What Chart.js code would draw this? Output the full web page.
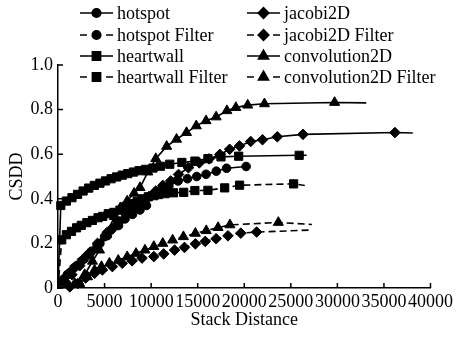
<!DOCTYPE html>
<html>
<head>
<meta charset="utf-8">
<script src="https://cdn.jsdelivr.net/npm/chart.js@4/dist/chart.umd.min.js"></script>
<style>
  html, body { margin: 0; padding: 0; background: #fff; }
  #wrap { position: relative; width: 456px; height: 338px; }
</style>
</head>
<body>
<div id="wrap"><canvas id="c" width="456" height="338"></canvas></div>
<script>
// ---------------- data ----------------
const seriesNames = ['hotspot', 'hotspot Filter', 'heartwall', 'heartwall Filter',
                     'jacobi2D', 'jacobi2D Filter', 'convolution2D', 'convolution2D Filter'];

const hotspotX = [0, 600, 1300, 2000, 2800, 3600, 4500, 5300, 5900, 6600, 7300, 8100, 8800, 9800, 10800, 11900, 12900, 13900, 14900, 15900, 17000, 18100, 20200];
const hotspotY = [0, 0.04, 0.07, 0.10, 0.13, 0.165, 0.20, 0.235, 0.27, 0.30, 0.33, 0.36, 0.39, 0.41, 0.434, 0.456, 0.48, 0.49, 0.50, 0.51, 0.524, 0.537, 0.545];

const hotspotFilterX = [0, 400, 1000, 1700, 2500, 3400, 4200, 5000, 5700, 6500, 7200, 8000, 8800, 9500];
const hotspotFilterY = [0, 0.03, 0.06, 0.09, 0.12, 0.15, 0.19, 0.23, 0.26, 0.28, 0.31, 0.33, 0.35, 0.37];

const heartwallX = [0, 300, 900, 1500, 2100, 2700, 3300, 3900, 4500, 5100, 5700, 6300, 6900, 7500, 8100, 8700, 9400, 10200, 11000, 12000, 13300, 14700, 16100, 17500, 19400, 25900, 26700];
const heartwallY = [0, 0.37, 0.39, 0.405, 0.42, 0.435, 0.448, 0.46, 0.47, 0.48, 0.49, 0.498, 0.506, 0.513, 0.52, 0.526, 0.532, 0.538, 0.546, 0.555, 0.563, 0.569, 0.58, 0.588, 0.591, 0.595, 0.595];

const heartwallFilterX = [0, 400, 900, 1450, 2000, 2500, 3100, 3700, 4300, 4800, 5400, 6000, 6650, 7300, 8000, 8500, 9050, 9700, 10300, 10800, 11500, 12400, 13500, 14700, 16100, 17900, 19500, 25300, 26500];
const heartwallFilterY = [0, 0.216, 0.239, 0.254, 0.27, 0.281, 0.293, 0.303, 0.315, 0.321, 0.333, 0.339, 0.349, 0.366, 0.378, 0.389, 0.40, 0.409, 0.414, 0.419, 0.423, 0.427, 0.429, 0.437, 0.438, 0.449, 0.461, 0.467, 0.46];

const jacobiX = [0, 740, 1490, 2330, 3180, 4240, 5300, 6370, 7320, 8170, 9020, 9760, 10500, 11250, 12100, 12940, 14000, 15170, 16230, 17370, 18430, 19490, 20690, 21960, 23550, 26310, 36180, 38100];
const jacobiY = [0, 0.03, 0.06, 0.10, 0.15, 0.20, 0.25, 0.30, 0.33, 0.365, 0.39, 0.41, 0.435, 0.46, 0.48, 0.509, 0.539, 0.561, 0.579, 0.599, 0.622, 0.637, 0.657, 0.665, 0.678, 0.689, 0.697, 0.695];

const jacobiFilterX = [0, 1270, 2120, 2970, 3930, 4770, 5840, 6900, 7960, 9020, 10290, 11350, 12520, 13580, 14750, 15810, 16980, 18250, 19630, 21330, 27270];
const jacobiFilterY = [0, 0.005, 0.02, 0.045, 0.066, 0.081, 0.096, 0.111, 0.122, 0.134, 0.141, 0.153, 0.17, 0.182, 0.198, 0.209, 0.221, 0.234, 0.246, 0.251, 0.26];

const convX = [0, 1800, 2860, 3700, 4460, 5200, 6050, 6700, 7430, 8170, 8800, 9650, 10500, 11670, 12730, 13800, 14850, 15900, 16980, 18140, 19100, 20370, 22170, 29700, 33100];
const convY = [0, 0.02, 0.06, 0.12, 0.17, 0.24, 0.32, 0.36, 0.39, 0.425, 0.45, 0.52, 0.58, 0.635, 0.667, 0.697, 0.727, 0.75, 0.767, 0.795, 0.809, 0.82, 0.826, 0.832, 0.83];

const convFilterX = [0, 2330, 3180, 3930, 4670, 5520, 6470, 7430, 8380, 9340, 10290, 11250, 12310, 13470, 14750, 15920, 17190, 18460, 23660, 27270];
const convFilterY = [0, 0.02, 0.05, 0.08, 0.096, 0.111, 0.124, 0.14, 0.155, 0.17, 0.186, 0.2, 0.215, 0.23, 0.245, 0.257, 0.271, 0.283, 0.294, 0.285];

const xTickValues = [0, 5000, 10000, 15000, 20000, 25000, 30000, 35000, 40000];
const yTickValues = [0, 0.2, 0.4, 0.6, 0.8, 1.0];

// ---------------- chart ----------------
const serif = "'Liberation Serif', 'DejaVu Serif', serif";
const pts = (xs, ys) => xs.map((x, i) => ({ x, y: ys[i] }));

function ds(label, xs, ys, style, dashed, hideLast, radius) {
  return {
    label, data: pts(xs, ys),
    borderColor: '#000', backgroundColor: '#000',
    borderWidth: 1.6,
    borderDash: dashed ? [7, 4] : [],
    pointStyle: style,
    pointRadius: ctx => (ctx.dataIndex === 0 || (hideLast && ctx.dataIndex === ctx.dataset.data.length - 1)) ? 0 : radius,
    pointBorderWidth: 1,
    pointBackgroundColor: '#000', pointBorderColor: '#000',
    tension: 0, clip: 8,
    _legendStyle: style, _legendDashed: dashed, _legendRadius: radius
  };
}

const datasets = [
  ds(seriesNames[0], hotspotX, hotspotY, 'circle', false, false, 4.3),
  ds(seriesNames[1], hotspotFilterX, hotspotFilterY, 'circle', true, false, 4.3),
  ds(seriesNames[2], heartwallX, heartwallY, 'rect', false, true, 5.8),
  ds(seriesNames[3], heartwallFilterX, heartwallFilterY, 'rect', true, true, 5.8),
  ds(seriesNames[4], jacobiX, jacobiY, 'rectRot', false, true, 5.3),
  ds(seriesNames[5], jacobiFilterX, jacobiFilterY, 'rectRot', true, true, 5.3),
  ds(seriesNames[6], convX, convY, 'triangle', false, true, 5.8),
  ds(seriesNames[7], convFilterX, convFilterY, 'triangle', true, true, 5.8)
];

const inwardTicks = {
  id: 'inwardTicks',
  afterDraw(chart) {
    const { ctx, scales: { x, y }, chartArea: a } = chart;
    ctx.save();
    ctx.strokeStyle = '#000';
    ctx.lineWidth = 1.5;
    ctx.beginPath();
    xTickValues.forEach(v => { const px = x.getPixelForValue(v); ctx.moveTo(px, a.bottom); ctx.lineTo(px, a.bottom - 5); });
    yTickValues.forEach(v => { const py = y.getPixelForValue(v); ctx.moveTo(a.left, py); ctx.lineTo(a.left + 5, py); });
    ctx.stroke();
    ctx.restore();
  }
};

const columnLegend = {
  id: 'columnLegend',
  afterDraw(chart) {
    const ctx = chart.ctx;
    const colX = [80, 247];
    const rowY = [13, 35, 56, 77];
    ctx.save();
    chart.data.datasets.forEach((d, i) => {
      const x0 = colX[Math.floor(i / 4)];
      const y0 = rowY[i % 4];
      ctx.strokeStyle = '#000';
      ctx.lineWidth = 1.6;
      ctx.setLineDash([]);
      ctx.beginPath();
      if (d._legendDashed) {
        ctx.moveTo(x0, y0); ctx.lineTo(x0 + 7, y0);
        ctx.moveTo(x0 + 26, y0); ctx.lineTo(x0 + 33, y0);
      } else {
        ctx.moveTo(x0, y0); ctx.lineTo(x0 + 33, y0);
      }
      ctx.stroke();
      ctx.fillStyle = '#000';
      Chart.helpers.drawPoint(ctx, { pointStyle: d._legendStyle, radius: d._legendRadius, rotation: 0, borderWidth: 1 }, x0 + 16.5, y0);
      ctx.fillStyle = '#000';
      ctx.font = "18px " + serif;
      ctx.textBaseline = 'middle';
      ctx.textAlign = 'left';
      ctx.fillText(d.label, x0 + 37, y0 + 1);
    });
    ctx.restore();
  }
};

new Chart(document.getElementById('c'), {
  type: 'line',
  data: { datasets },
  options: {
    responsive: false,
    animation: false,
    layout: { padding: { top: 65, right: 21, bottom: 0, left: 0 } },
    plugins: { legend: { display: false }, tooltip: { enabled: false } },
    scales: {
      x: {
        type: 'linear', min: 0, max: 40000,
        afterBuildTicks: s => { s.ticks = xTickValues.map(v => ({ value: v })); },
        afterFit: s => { s.height = 50; },
        ticks: { autoSkip: false, maxRotation: 0, minRotation: 0, padding: 3, color: '#000',
                 font: { family: serif, size: 18 }, callback: v => String(v) },
        grid: { display: true, drawOnChartArea: false, drawTicks: false },
        border: { display: true, color: '#000', width: 1.5 },
        title: { display: true, text: 'Stack Distance', color: '#000',
                 font: { family: serif, size: 18 }, padding: { top: 0, bottom: 7 } }
      },
      y: {
        type: 'linear', min: 0, max: 1.0,
        afterBuildTicks: s => { s.ticks = yTickValues.map(v => ({ value: v })); },
        afterFit: s => { s.width = 58; },
        ticks: { padding: 5, color: '#000', font: { family: serif, size: 18 },
                 callback: v => v === 0 ? '0' : v.toFixed(1) },
        grid: { display: true, drawOnChartArea: false, drawTicks: false },
        border: { display: true, color: '#000', width: 1.5 },
        title: { display: true, text: 'CSDD', color: '#000',
                 font: { family: serif, size: 18 }, padding: { top: 6, bottom: 0 } }
      }
    }
  },
  plugins: [inwardTicks, columnLegend]
});
</script>
</body>
</html>
